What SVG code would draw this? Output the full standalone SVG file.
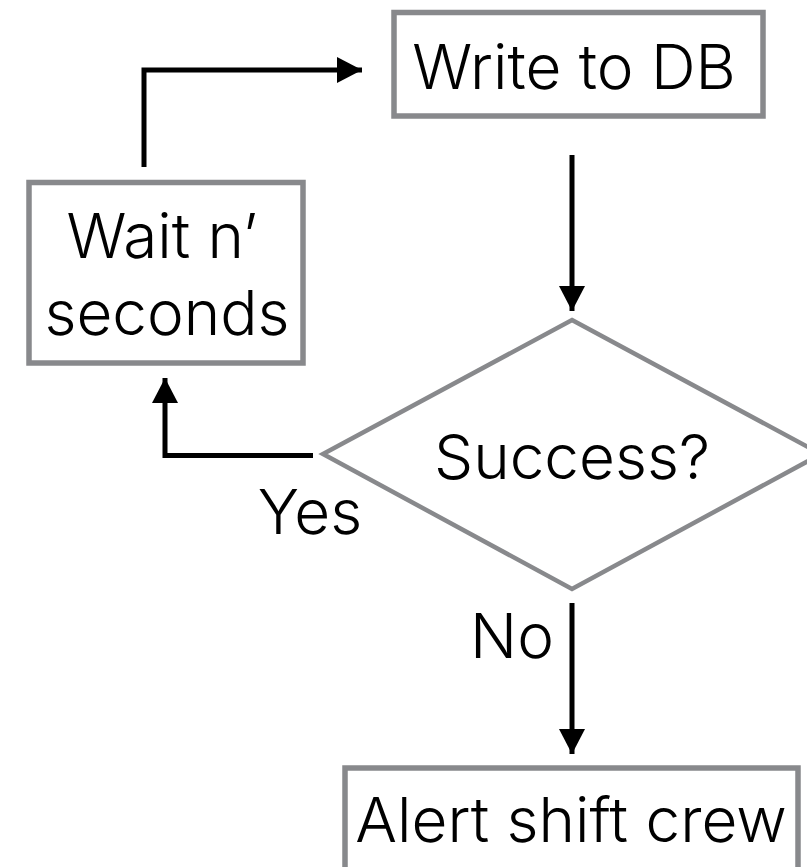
<svg xmlns="http://www.w3.org/2000/svg" width="807" height="867" viewBox="0 0 807 867">
<defs>
<marker id="ah" markerUnits="userSpaceOnUse" markerWidth="26" markerHeight="26" viewBox="0 0 26 26" refX="25" refY="13" orient="auto">
<path d="M0,0 L25,13 L0,26 Z" fill="#000"/>
</marker>
<style>
.box{fill:#fff;stroke:#88898c;stroke-width:5.5}
.dia{fill:#fff;stroke:#88898c;stroke-width:4.5}
.t{font-family:Inter,"Liberation Sans",sans-serif;font-weight:300;font-size:62px;fill:#000;text-anchor:middle}
.c{fill:none;stroke:#000;stroke-width:5;marker-end:url(#ah)}
</style>
</defs>
<rect width="807" height="867" fill="#fff"/>
<g id="write">
<rect class="box" x="394" y="12.5" width="369" height="103.5"/>
<text class="t" x="574" y="89">Write to DB</text>
</g>
<g id="wait">
<rect class="box" x="29" y="182.5" width="274" height="180.5"/>
<text class="t" x="162" y="258">Wait n’</text>
<text class="t" x="167" y="335">seconds</text>
</g>
<g id="success">
<polygon class="dia" points="572,320 821,454 572,589 323,454"/>
<text class="t" x="572" y="479">Success?</text>
</g>
<g id="alert">
<rect class="box" x="345" y="768" width="453" height="130"/>
<text class="t" x="571" y="842">Alert shift crew</text>
</g>
<g id="connectors">
<path class="c" d="M144,167 L144,70 L362,70"/>
<path class="c" d="M572,155 L572,311"/>
<path class="c" d="M313,455.5 L165,455.5 L165,378"/>
<path class="c" d="M572,603 L572,754"/>
<text class="t" x="310" y="534">Yes</text>
<text class="t" x="512" y="658">No</text>
</g>
</svg>
